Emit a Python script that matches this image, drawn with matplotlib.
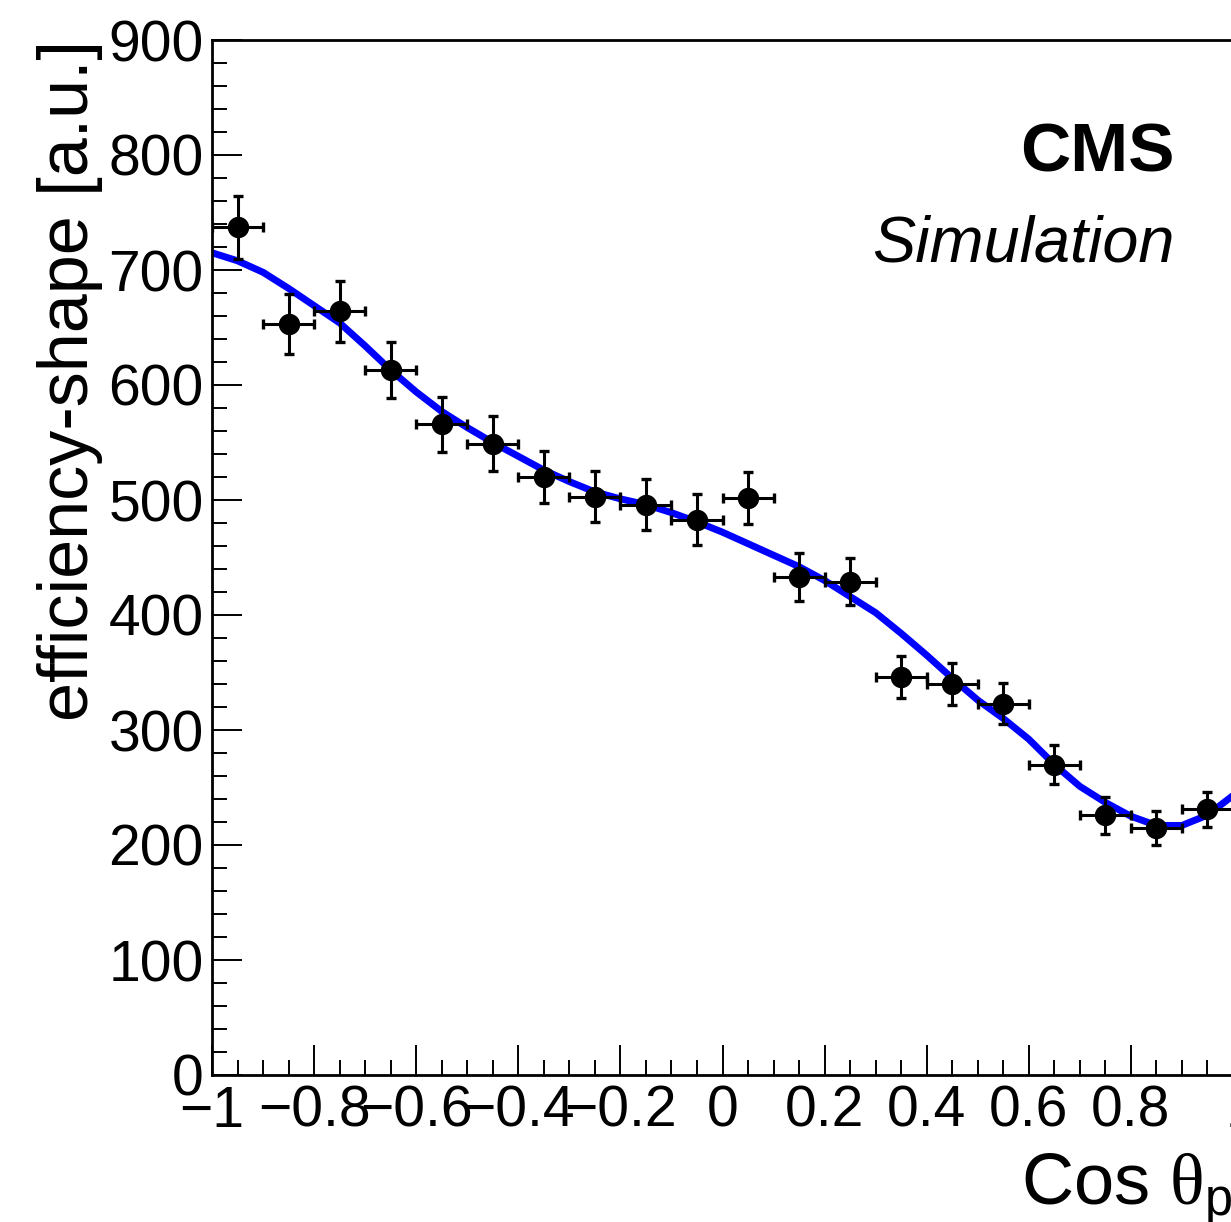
import numpy as np
import matplotlib
matplotlib.use("Agg")
import matplotlib.pyplot as plt
import matplotlib.transforms as mtransforms
from matplotlib.ticker import MultipleLocator

plt.rcParams["font.family"] = ["Liberation Sans", "DejaVu Sans"]
plt.rcParams["mathtext.fontset"] = "custom"
plt.rcParams["mathtext.rm"] = "Liberation Serif"
plt.rcParams["mathtext.sf"] = "Liberation Sans"

# Binned efficiency shape (20 bins in cos theta)
bin_centers = [-0.95, -0.85, -0.75, -0.65, -0.55, -0.45, -0.35, -0.25, -0.15, -0.05,
               0.05, 0.15, 0.25, 0.35, 0.45, 0.55, 0.65, 0.75, 0.85, 0.95]
bin_half_width = [0.05] * 20
efficiency = [737, 653, 664, 613, 566, 549, 520, 503, 496, 483,
              502, 433, 429, 346, 340, 323, 270, 226, 215, 231]
efficiency_err = [27, 26, 26.5, 24, 24, 24, 23, 22.5, 22, 22,
                  22.5, 20.5, 20.5, 18, 18.5, 18, 17, 16, 15, 15.5]

# Fitted shape, sampled along cos theta
fit_x = [-1.0, -0.95, -0.9, -0.85, -0.8, -0.75, -0.7, -0.65, -0.6, -0.55,
         -0.5, -0.45, -0.4, -0.35, -0.3, -0.25, -0.2, -0.15, -0.1, -0.05,
         0.0, 0.05, 0.1, 0.15, 0.2, 0.25, 0.3, 0.35, 0.4, 0.45,
         0.5, 0.55, 0.6, 0.65, 0.7, 0.75, 0.8, 0.85, 0.9, 0.95, 1.0]
fit_y = [715, 708, 698, 684, 669, 654, 634, 613, 594, 577,
         563, 550, 538, 526, 516, 507, 501, 496, 489, 481,
         472, 462, 452, 442, 430, 416, 402, 384, 365, 345,
         326, 310, 292, 270, 251, 237, 225, 217, 217, 226, 243]

x_ticks = [-1, -0.8, -0.6, -0.4, -0.2, 0, 0.2, 0.4, 0.6, 0.8, 1]
x_tick_labels = ["\u22121", "\u22120.8", "\u22120.6", "\u22120.4", "\u22120.2",
                 "0", "0.2", "0.4", "0.6", "0.8", "1"]
y_ticks = [0, 100, 200, 300, 400, 500, 600, 700, 800, 900]

W, H = 1231, 1222
fig = plt.figure(figsize=(W / 100, H / 100), dpi=100)
ax = fig.add_axes([212 / W, 1 - 1075 / H, (1233 - 212) / W, (1075 - 40) / H])

ax.plot(fit_x, fit_y, color="#0000ff", lw=5, zorder=2, solid_joinstyle="round")
ax.errorbar(bin_centers, efficiency, xerr=bin_half_width, yerr=efficiency_err,
            fmt="o", color="black", ms=14.4, elinewidth=2.2, capsize=3.6,
            capthick=2.4, zorder=3)

ax.set_xlim(-1, 1)
ax.set_ylim(0, 900)
ax.set_xticks(x_ticks)
ax.set_xticklabels(x_tick_labels)
ax.set_yticks(y_ticks)
ax.xaxis.set_minor_locator(MultipleLocator(0.05))
ax.yaxis.set_minor_locator(MultipleLocator(20))
ax.tick_params(which="both", direction="in", top=False, right=False,
               labelsize=41, width=1.4)
ax.tick_params(which="major", length=21.6)
ax.tick_params(which="minor", length=10.8)
ax.tick_params(axis="y", pad=6)
ax.tick_params(axis="x", pad=7)
for s in ax.spines.values():
    s.set_linewidth(2)

# the last x label sits slightly right of its tick
last = ax.get_xticklabels()[-1]
last.set_transform(last.get_transform() +
                   mtransforms.ScaledTranslation(8 / 100, 0, fig.dpi_scale_trans))

fig.text(70 / W, 1 - 40 / H, "efficiency-shape [a.u.]", rotation=90,
         ha="center", va="top", fontsize=50.5)
fig.text(1233 / W, 1 - 1205 / H, r"Cos $\mathrm{\theta}_{\mathsf{p}}$",
         ha="right", va="baseline", fontsize=52)

fig.text(1175 / W, 1 - 172 / H, "CMS", ha="right", va="baseline",
         fontsize=50, fontweight="bold")
fig.text(1175 / W, 1 - 262 / H, "Simulation", ha="right", va="baseline",
         fontsize=46.6, fontstyle="italic")

fig.savefig("out.png", dpi=100)
